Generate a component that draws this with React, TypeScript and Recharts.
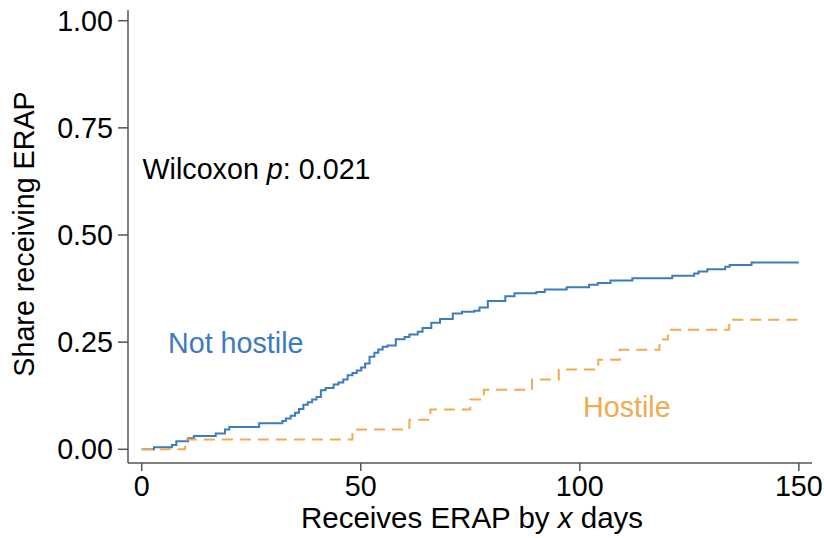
import React from "react";
import { LineChart, Line, XAxis, YAxis } from "recharts";

const notHostileDays = [0, 2.8, 6.9, 7.9, 10.6, 11.9, 16.9, 19.0, 20.0, 26.8, 32.1, 32.9, 34.0, 35.0, 35.9, 36.9, 37.9, 38.9, 39.9, 40.9, 42.0, 43.8, 44.9, 46.0, 47.0, 48.1, 49.1, 50.1, 51.0, 52.0, 53.1, 54.0, 55.0, 56.1, 58.0, 60.0, 61.1, 63.0, 64.1, 66.1, 68.1, 71.0, 73.1, 75.9, 77.1, 79.0, 83.0, 85.1, 90.1, 92.0, 97.0, 102.1, 104.1, 107.0, 112.0, 121.1, 126.1, 127.1, 129.1, 133.2, 134.2, 139.2, 150];
const notHostileShare = [0, 0.005, 0.010, 0.019, 0.026, 0.031, 0.037, 0.046, 0.052, 0.061, 0.066, 0.072, 0.078, 0.085, 0.094, 0.104, 0.110, 0.116, 0.122, 0.138, 0.143, 0.151, 0.156, 0.163, 0.173, 0.178, 0.184, 0.191, 0.200, 0.216, 0.225, 0.233, 0.239, 0.242, 0.257, 0.262, 0.268, 0.274, 0.283, 0.295, 0.304, 0.317, 0.321, 0.323, 0.331, 0.346, 0.357, 0.364, 0.367, 0.373, 0.378, 0.384, 0.388, 0.394, 0.399, 0.405, 0.410, 0.415, 0.420, 0.426, 0.430, 0.436, 0.436];

const hostileDays = [0, 9.9, 48.1, 61.1, 65.9, 75.0, 78.1, 89.1, 95.2, 104.2, 109.1, 118.2, 120.1, 134.1, 150];
const hostileShare = [0, 0.023, 0.046, 0.069, 0.093, 0.116, 0.139, 0.163, 0.186, 0.209, 0.232, 0.256, 0.279, 0.302, 0.302];

const xTicks = [0, 50, 100, 150];
const yTicks = [0, 0.25, 0.5, 0.75, 1];

const notHostileData = notHostileDays.map((d, i) => ({ day: d, share: notHostileShare[i] }));
const hostileData = hostileDays.map((d, i) => ({ day: d, share: hostileShare[i] }));

const BLUE = "#3a7cbf";
const ORANGE = "#efac4f";
const AXIS = "#555555";
const FONT = "'Liberation Sans', Arial, Helvetica, sans-serif";
const FS = 28.7;

export default function App() {
  return (
    <div style={{ position: "absolute", left: 0, top: 0, width: 824, height: 538, background: "#fff", fontFamily: FONT }}>
      <LineChart width={824} height={538} margin={{ top: 10, right: 12, left: 0, bottom: 0 }}>
        <XAxis
          dataKey="day"
          type="number"
          domain={[-3.13, 153]}
          ticks={xTicks}
          allowDataOverflow
          height={75}
          stroke={AXIS}
          strokeWidth={1.5}
          tickSize={8}
          tickMargin={5}
          tick={{ fill: "#000", fontSize: FS, fontFamily: FONT }}
          tickLine={{ stroke: AXIS, strokeWidth: 1.5 }}
        />
        <YAxis
          type="number"
          domain={[-0.032, 1.025]}
          ticks={yTicks}
          allowDataOverflow
          width={128}
          stroke={AXIS}
          strokeWidth={1.5}
          tickSize={10}
          tickMargin={5}
          tickFormatter={(v: number) => v.toFixed(2)}
          tick={{ fill: "#000", fontSize: FS, fontFamily: FONT }}
          tickLine={{ stroke: AXIS, strokeWidth: 1.5 }}
        />
        <Line
          data={notHostileData}
          dataKey="share"
          type="stepAfter"
          stroke={BLUE}
          strokeWidth={2}
          dot={false}
          isAnimationActive={false}
        />
        <Line
          data={hostileData}
          dataKey="share"
          type="stepAfter"
          stroke={ORANGE}
          strokeWidth={2}
          strokeDasharray="11 7"
          dot={false}
          isAnimationActive={false}
        />
      </LineChart>
      <svg width={824} height={538} style={{ position: "absolute", left: 0, top: 0, pointerEvents: "none" }}>
        <text x={34} y={234} transform="rotate(-90 34 234)" textAnchor="middle" fontSize={FS} fontFamily={FONT} fill="#000">
          Share receiving ERAP
        </text>
        <text x={472} y={528} textAnchor="middle" fontSize={29.5} fontFamily={FONT} fill="#000">
          Receives ERAP by <tspan fontStyle="italic">x</tspan> days
        </text>
        <text x={142.5} y={178.5} fontSize={FS} fontFamily={FONT} fill="#000">
          Wilcoxon <tspan fontStyle="italic">p</tspan>: 0.021
        </text>
        <text x={168} y={353.3} fontSize={FS} fontFamily={FONT} fill={BLUE}>
          Not hostile
        </text>
        <text x={583} y={416.7} fontSize={FS} fontFamily={FONT} fill={ORANGE}>
          Hostile
        </text>
      </svg>
    </div>
  );
}
